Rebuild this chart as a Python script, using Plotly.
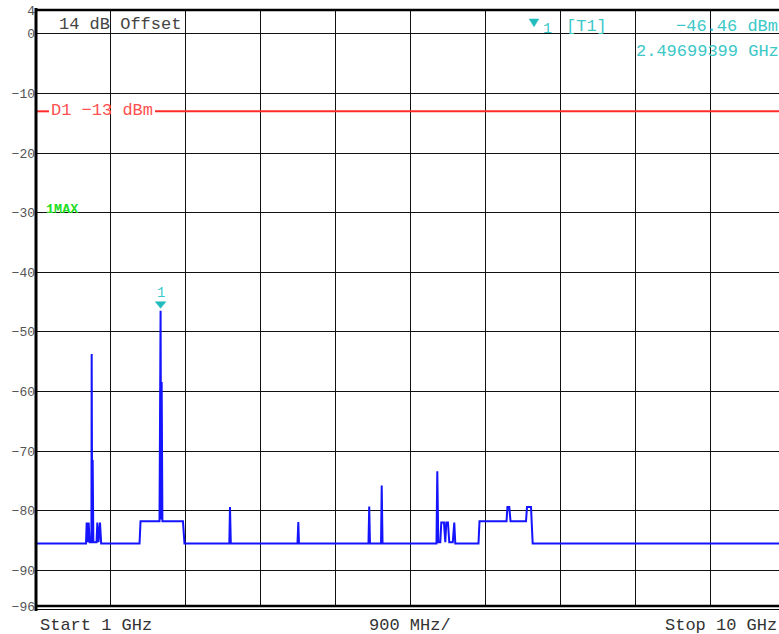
import plotly.graph_objects as go

# ---- data ----
freq_ghz = [1.000, 1.601, 1.609, 1.621, 1.633, 1.645, 1.666, 1.669, 1.675, 1.681, 1.689,
            1.727, 1.737, 1.751, 1.769, 1.783, 2.244, 2.256, 2.484, 2.497, 2.504, 2.510,
            2.519, 2.766, 2.784, 3.323, 3.331, 3.341, 4.142, 4.152, 4.160, 4.995, 5.004,
            5.013, 5.146, 5.154, 5.164, 5.812, 5.822, 5.834, 5.858, 5.870, 5.902, 5.918,
            5.930, 5.950, 5.966, 6.008, 6.018, 6.026, 6.038, 6.317, 6.329, 6.654, 6.665,
            6.687, 6.702, 6.888, 6.900, 6.948, 6.968, 10.000]
level_dbm = [-85.5, -85.5, -82.0, -85.3, -82.0, -85.3, -85.3, -53.7, -84.0, -71.5, -85.3,
             -85.3, -82.0, -85.3, -82.0, -85.5, -85.5, -81.8, -81.8, -46.46, -81.5, -58.4,
             -81.8, -81.8, -85.5, -85.5, -79.4, -85.5, -85.5, -81.9, -85.5, -85.5, -79.3,
             -85.5, -85.5, -75.8, -85.5, -85.5, -73.4, -85.3, -85.3, -82.0, -82.0, -85.3,
             -82.0, -82.0, -85.3, -85.3, -82.0, -82.0, -85.5, -85.5, -81.8, -81.8, -79.4,
             -79.4, -81.8, -81.8, -79.4, -79.4, -85.5, -85.5]

marker_freq_ghz = 2.49699399
marker_level_dbm = -46.46
display_line_dbm = -13
ref_offset_db = 14
start_ghz = 1
stop_ghz = 10
span_per_div_mhz = 900

y_tickvals = [4, 0, -10, -20, -30, -40, -50, -60, -70, -80, -90, -96]
y_ticktext = [str(v).replace("-", "\u2212") for v in y_tickvals]

# ---- layout geometry ----
W, H = 779, 634
ML, MR, MT, MB = 36, 0, 10, 28
PW = W - ML - MR
PH = H - MT - MB
px_per_ghz = 749 / 9.0          # full 10-division screen is 749 px wide
x_end = start_ghz + PW / px_per_ghz


def px(xp):
    return (xp - ML) / PW


def py(yp):
    return 1 - (yp - MT) / PH


MONO = "Liberation Mono"
CYAN = "#3cc8c8"

fig = go.Figure()
fig.add_trace(go.Scatter(x=freq_ghz, y=level_dbm, mode="lines",
                         line=dict(color="#1414ff", width=2), hoverinfo="skip",
                         showlegend=False))

fig.update_layout(
    width=W, height=H, margin=dict(l=ML, r=MR, t=MT, b=MB, pad=0),
    template="none", plot_bgcolor="white", paper_bgcolor="white",
    showlegend=False,
    xaxis=dict(range=[start_ghz, x_end], tick0=start_ghz, dtick=span_per_div_mhz / 1000,
               showgrid=True, gridcolor="#111", gridwidth=1, showticklabels=False,
               zeroline=False, showline=False, ticks="", automargin=False),
    yaxis=dict(range=[-96, 4], tickvals=y_tickvals, ticktext=y_ticktext,
               showgrid=True, gridcolor="#111", gridwidth=1, zeroline=False,
               showline=False, ticks="", automargin=False,
               tickfont=dict(family=MONO, size=13, color="#555")),
)

shapes = []
# display line D1 (broken by its label)
shapes.append(dict(type="line", xref="paper", yref="y", x0=0, x1=px(49),
                   y0=display_line_dbm, y1=display_line_dbm,
                   line=dict(color="#ff2a2a", width=2)))
shapes.append(dict(type="line", xref="paper", yref="y", x0=px(155), x1=1,
                   y0=display_line_dbm, y1=display_line_dbm,
                   line=dict(color="#ff2a2a", width=2)))
# frame
shapes.append(dict(type="line", xref="paper", yref="paper", x0=0, x1=0,
                   y0=py(611), y1=py(8), line=dict(color="black", width=3)))
shapes.append(dict(type="line", xref="paper", yref="paper", x0=px(35), x1=1,
                   y0=1, y1=1, line=dict(color="black", width=2.5)))
shapes.append(dict(type="line", xref="paper", yref="paper", x0=px(35), x1=1,
                   y0=0, y1=0, line=dict(color="black", width=2.5)))
shapes.append(dict(type="line", xref="paper", yref="paper", x0=px(35), x1=1,
                   y0=py(609.5), y1=py(609.5), line=dict(color="black", width=1)))
# marker 1 triangle above the peak
shapes.append(dict(type="path", xref="x", yref="y", xsizemode="pixel", ysizemode="pixel",
                   xanchor=marker_freq_ghz, yanchor=marker_level_dbm,
                   path="M -5.3,9 L 5.3,9 L 0,2.4 Z",
                   fillcolor="#22bcbc", line=dict(color="#22bcbc", width=0.5)))
# marker triangle in the info field
shapes.append(dict(type="path", xref="paper", yref="paper", xsizemode="pixel",
                   ysizemode="pixel", xanchor=px(534), yanchor=py(23),
                   path="M -4.8,4 L 4.8,4 L 0,-3.8 Z",
                   fillcolor="#22bcbc", line=dict(color="#22bcbc", width=0.5)))
fig.update_layout(shapes=shapes)

ann = []


def text(s, xp, yp, color, size=17, anchor="left", bold=False, family=MONO):
    ann.append(dict(text=f"<b>{s}</b>" if bold else s, xref="paper", yref="paper",
                    x=px(xp), y=py(yp), xanchor=anchor, yanchor="middle",
                    showarrow=False, font=dict(family=family, size=size, color=color)))


text(f"{ref_offset_db} dB Offset", 57, 24, "#444")
text(f"D1 \u2212{abs(display_line_dbm)} dBm", 49, 110.5, "#ff5050")
text("1MAX", 44, 210, "#22dd22", size=13.5, bold=True)
text("1", 541, 29, CYAN, size=15)
text("[T1]", 564, 27, CYAN)
text(f"{marker_level_dbm:.2f} dBm".replace("-", "\u2212"), 674, 27, CYAN)
text(f"{marker_freq_ghz:.8f} GHz", 634, 51.5, CYAN)
text(f"Start {start_ghz} GHz", 38, 625, "#333")
text(f"{span_per_div_mhz} MHz/", 410, 625, "#333", anchor="center")
text(f"Stop {stop_ghz} GHz", 779, 625, "#333", anchor="right")

ann.append(dict(text="1", x=marker_freq_ghz, y=marker_level_dbm, xref="x", yref="y",
                yshift=18, showarrow=False, xanchor="center", yanchor="middle",
                font=dict(family=MONO, size=14, color=CYAN)))
fig.update_layout(annotations=ann)

fig.write_html("out.html", config={"displayModeBar": False, "staticPlot": True},
               post_script="document.body.style.margin='0';document.body.style.overflow='hidden';")
